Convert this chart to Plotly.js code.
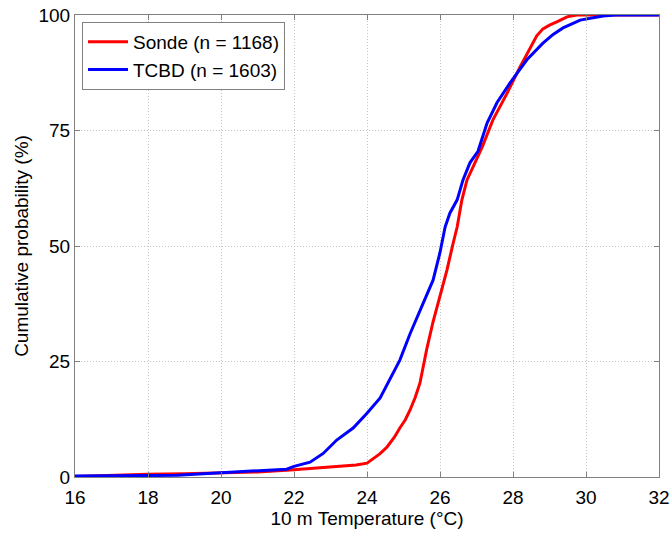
<!DOCTYPE html>
<html>
<head>
<meta charset="utf-8">
<script src="https://cdn.plot.ly/plotly-3.0.1.min.js"></script>
<style>html,body{margin:0;padding:0;background:#fff;}#chart{width:672px;height:533px;}</style>
</head>
<body>
<div id="chart"></div>
<script>
// Sonde (n = 1168)
const sondeTemp = [16, 16.7, 17, 18, 19, 20, 21, 21.9, 23, 23.7, 24.0, 24.16, 24.35, 24.55, 24.75, 24.9, 25.05, 25.18, 25.32, 25.45, 25.64, 25.81, 26.0, 26.19, 26.36, 26.47, 26.6, 26.74, 26.9, 27.16, 27.45, 27.84, 28.19, 28.47, 28.65, 28.82, 29.0, 29.2, 29.48, 29.75, 32];
const sondeProb = [0.1, 0.3, 0.4, 0.6, 0.7, 0.9, 1.1, 1.5, 2.2, 2.6, 3.0, 3.9, 5.0, 6.5, 8.6, 10.6, 12.4, 14.5, 17.2, 20.3, 27.8, 33.6, 39.2, 44.8, 50.6, 54.1, 60, 64.3, 67.0, 71.5, 77.3, 83.1, 88.7, 93.0, 95.5, 97.0, 97.8, 98.5, 99.6, 100, 100];
// TCBD (n = 1603)
const tcbdTemp = [16, 17, 18, 18.8, 19.5, 20, 21, 21.8, 22.0, 22.44, 22.8, 23.17, 23.62, 24.0, 24.36, 24.71, 24.9, 25.18, 25.45, 25.81, 26.0, 26.14, 26.27, 26.47, 26.63, 26.82, 27.04, 27.29, 27.56, 27.92, 28.38, 28.82, 29.1, 29.37, 29.84, 30.47, 30.8, 32];
const tcbdProb = [0.2, 0.2, 0.3, 0.4, 0.7, 0.9, 1.2, 1.7, 2.3, 3.2, 5.1, 8, 10.6, 13.8, 17.1, 22.5, 25.3, 31, 36, 42.6, 48.6, 54.1, 57.1, 60, 64.3, 68, 70.5, 76.6, 81, 85.3, 90.3, 93.9, 95.8, 97.2, 98.9, 99.8, 100, 100];

const xTicks = [16, 18, 20, 22, 24, 26, 28, 30, 32];
const yTicks = [0, 25, 50, 75, 100];
const seriesNames = ['Sonde (n = 1168)', 'TCBD (n = 1603)'];

const FONT = 'Liberation Sans, Arial, Helvetica, sans-serif';

const traces = [
  {x: sondeTemp, y: sondeProb, type: 'scatter', mode: 'lines', name: seriesNames[0],
   line: {color: '#ff0000', width: 3}},
  {x: tcbdTemp, y: tcbdProb, type: 'scatter', mode: 'lines', name: seriesNames[1],
   line: {color: '#0000ff', width: 3}}
];

const axisCommon = {
  showline: true, linecolor: '#808080', linewidth: 1, mirror: 'ticks',
  ticks: 'inside', ticklen: 5, tickcolor: '#808080', tickwidth: 1,
  showgrid: true, gridcolor: '#c4c4c4', griddash: '1px,2px', gridwidth: 1,
  zeroline: false, automargin: false,
  tickfont: {family: FONT, size: 19, color: '#000'}
};

const layout = {
  width: 672, height: 533,
  margin: {l: 75, r: 13, t: 15, b: 56, pad: 0},
  paper_bgcolor: '#fff', plot_bgcolor: '#fff',
  font: {family: FONT, size: 19, color: '#000'},
  showlegend: true,
  legend: {x: 0.012, y: 0.985, xanchor: 'left', yanchor: 'top',
    bgcolor: '#fff', bordercolor: '#808080', borderwidth: 1,
    font: {family: FONT, size: 19, color: '#000'}, itemwidth: 40,
    tracegroupgap: 0},
  xaxis: Object.assign({}, axisCommon, {
    range: [16, 32], tickvals: xTicks, ticktext: xTicks.map(String),
    ticklabelstandoff: 3,
    title: {text: '10 m Temperature (°C)', font: {family: FONT, size: 19, color: '#000'}, standoff: 4}
  }),
  yaxis: Object.assign({}, axisCommon, {
    range: [0, 100], tickvals: yTicks, ticktext: yTicks.map(String),
    title: {text: 'Cumulative probability (%)', font: {family: FONT, size: 19, color: '#000'}, standoff: 4}
  })
};

Plotly.newPlot('chart', traces, layout, {displayModeBar: false, staticPlot: true});
</script>
</body>
</html>
